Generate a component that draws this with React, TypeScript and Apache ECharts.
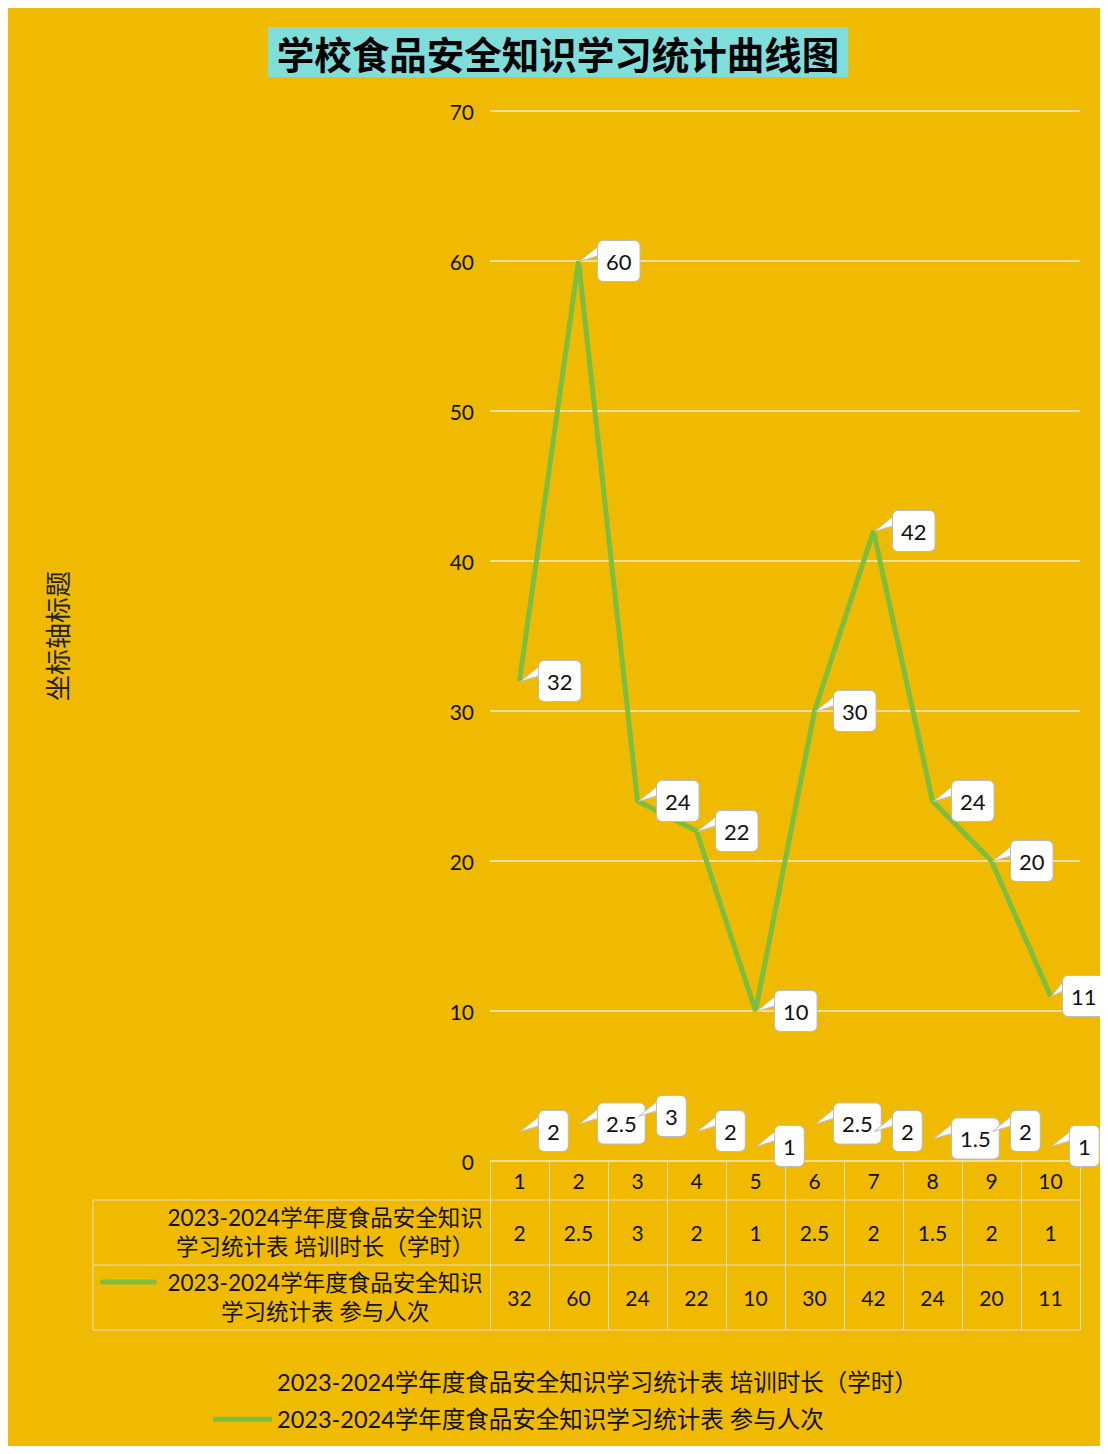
import React, { useEffect, useRef } from "react";
import * as echarts from "echarts";

const categories = ["1", "2", "3", "4", "5", "6", "7", "8", "9", "10"];
const hoursName = "2023-2024学年度食品安全知识学习统计表 培训时长（学时）";
const peopleName = "2023-2024学年度食品安全知识学习统计表 参与人次";
const hoursValues = [2, 2.5, 3, 2, 1, 2.5, 2, 1.5, 2, 1];
const peopleValues = [32, 60, 24, 22, 10, 30, 42, 24, 20, 11];
const yTicks = { min: 0, max: 70, interval: 10 };
const titleText = "学校食品安全知识学习统计曲线图";
const yAxisTitle = "坐标轴标题";
const rowLabel1 = "2023-2024学年度食品安全知识\n学习统计表 培训时长（学时）";
const rowLabel2 = "2023-2024学年度食品安全知识\n学习统计表 参与人次";

const BG = "#F0BA00";
const GREEN = "#7DBE41";
const TABLE_LINE = "#E2DCCB";
const FONT = "Lato, 'Noto Sans CJK SC', sans-serif";

function wedge(w: number) {
  const svg =
    `<svg xmlns="http://www.w3.org/2000/svg" width="${w}" height="40" viewBox="0 0 ${w} 40">` +
    `<polygon points="0,20.5 ${w + 1},5 ${w + 1},15" fill="#ffffff"/>` +
    `<polyline points="${w},5.3 0.5,20.5 ${w},14.7" fill="none" stroke="#BDBDBD" stroke-width="1"/>` +
    `</svg>`;
  return "data:image/svg+xml;charset=utf-8," + encodeURIComponent(svg);
}

export default function App() {
  const ref = useRef<HTMLDivElement>(null);
  useEffect(() => {
    if (!ref.current) return;
    const chart = echarts.init(ref.current, undefined, { renderer: "svg" });
    const makeLabel = (shortLast: boolean, count: number) => ({
      show: true,
      position: "right",
      distance: 0,
      formatter: (p: any) =>
        (shortLast && p.dataIndex === count - 1 ? "{ps|}" : "{p|}") + `{box|${p.value}}`,
      rich: {
        p: { width: 19, height: 40, backgroundColor: { image: wedge(19) } },
        ps: { width: 12, height: 40, backgroundColor: { image: wedge(12) } },
        box: {
          fontSize: 22,
          lineHeight: 24,
          height: 24,
          fontFamily: FONT,
          color: "#111",
          backgroundColor: "#fff",
          borderColor: "#BDBDBD",
          borderWidth: 1,
          borderRadius: 5,
          padding: [8, 8, 8, 8],
        },
      },
    });
    chart.setOption({
      animation: false,
      backgroundColor: BG,
      textStyle: { fontFamily: FONT },
      title: {
        text: titleText,
        left: "center",
        top: 19,
        backgroundColor: "#7FDDDA",
        padding: [6, 9, 6, 9],
        textStyle: {
          fontSize: 37.5,
          lineHeight: 38,
          fontWeight: "bold",
          color: "#000",
          fontFamily: "'Noto Sans CJK SC', sans-serif",
        },
      },
      legend: {
        orient: "vertical",
        left: 200,
        top: 1357,
        itemWidth: 59,
        itemHeight: 5,
        itemGap: 14,
        textStyle: { fontSize: 23.5, color: "#111", fontFamily: FONT },
        data: [
          { name: hoursName, icon: "rect" },
          { name: peopleName, icon: "rect" },
        ],
      },
      grid: { left: 482, right: 28, top: 103, bottom: 293 },
      xAxis: {
        type: "category",
        data: categories,
        boundaryGap: true,
        axisLine: { show: true, lineStyle: { color: TABLE_LINE, width: 1 } },
        axisTick: {
          show: true,
          interval: 0,
          length: 169,
          lineStyle: { color: TABLE_LINE, width: 1 },
        },
        axisLabel: {
          interval: 0,
          margin: 0,
          formatter: (_v: string, idx: number) =>
            `{a|${categories[idx]}}\n{b|${hoursValues[idx]}}\n{c|${peopleValues[idx]}}`,
          rich: {
            a: { fontSize: 21, lineHeight: 39, color: "#111", fontFamily: FONT },
            b: { fontSize: 21, lineHeight: 65, color: "#111", fontFamily: FONT },
            c: { fontSize: 21, lineHeight: 65, color: "#111", fontFamily: FONT },
          },
        },
      },
      yAxis: {
        type: "value",
        min: yTicks.min,
        max: yTicks.max,
        interval: yTicks.interval,
        name: yAxisTitle,
        nameLocation: "middle",
        nameRotate: 90,
        nameGap: 421,
        nameTextStyle: {
          fontSize: 26,
          color: "#222",
          fontFamily: "'Noto Sans CJK SC', sans-serif",
        },
        axisLine: { show: false },
        axisTick: { show: false },
        axisLabel: { fontSize: 21, color: "#111", margin: 16, fontFamily: FONT },
        splitLine: { lineStyle: { color: "#F3EBD6", width: 1.5 } },
      },
      series: [
        {
          name: hoursName,
          type: "line",
          data: hoursValues,
          symbol: "circle",
          symbolSize: 1,
          showSymbol: true,
          color: "rgba(0,0,0,0)",
          lineStyle: { width: 0, color: "rgba(0,0,0,0)" },
          itemStyle: { color: "rgba(0,0,0,0)" },
          label: makeLabel(false, hoursValues.length),
          z: 3,
        },
        {
          name: peopleName,
          type: "line",
          data: peopleValues,
          symbol: "circle",
          symbolSize: 1,
          showSymbol: true,
          color: GREEN,
          lineStyle: { width: 5, color: GREEN },
          itemStyle: { color: GREEN },
          label: makeLabel(true, peopleValues.length),
          z: 3,
        },
      ],
      graphic: [
        { type: "line", shape: { x1: 85, y1: 1192, x2: 1072, y2: 1192 }, style: { stroke: TABLE_LINE, lineWidth: 1 } },
        { type: "line", shape: { x1: 85, y1: 1257, x2: 1072, y2: 1257 }, style: { stroke: TABLE_LINE, lineWidth: 1 } },
        { type: "line", shape: { x1: 85, y1: 1322, x2: 1072, y2: 1322 }, style: { stroke: TABLE_LINE, lineWidth: 1 } },
        { type: "line", shape: { x1: 85, y1: 1192, x2: 85, y2: 1322 }, style: { stroke: TABLE_LINE, lineWidth: 1 } },
        {
          type: "text",
          x: 317,
          y: 1224,
          style: {
            text: rowLabel1,
            fontSize: 22.5,
            lineHeight: 29,
            fill: "#111",
            align: "center",
            verticalAlign: "middle",
            fontFamily: FONT,
          },
        },
        {
          type: "text",
          x: 317,
          y: 1289,
          style: {
            text: rowLabel2,
            fontSize: 22.5,
            lineHeight: 29,
            fill: "#111",
            align: "center",
            verticalAlign: "middle",
            fontFamily: FONT,
          },
        },
        {
          type: "rect",
          shape: { x: 92, y: 1271.5, width: 57, height: 5, r: 2.5 },
          style: { fill: GREEN },
        },
      ],
    });
    return () => chart.dispose();
  }, []);
  return (
    <div
      ref={ref}
      style={{ width: 1100, height: 1446, marginBottom: -8 }}
    />
  );
}
